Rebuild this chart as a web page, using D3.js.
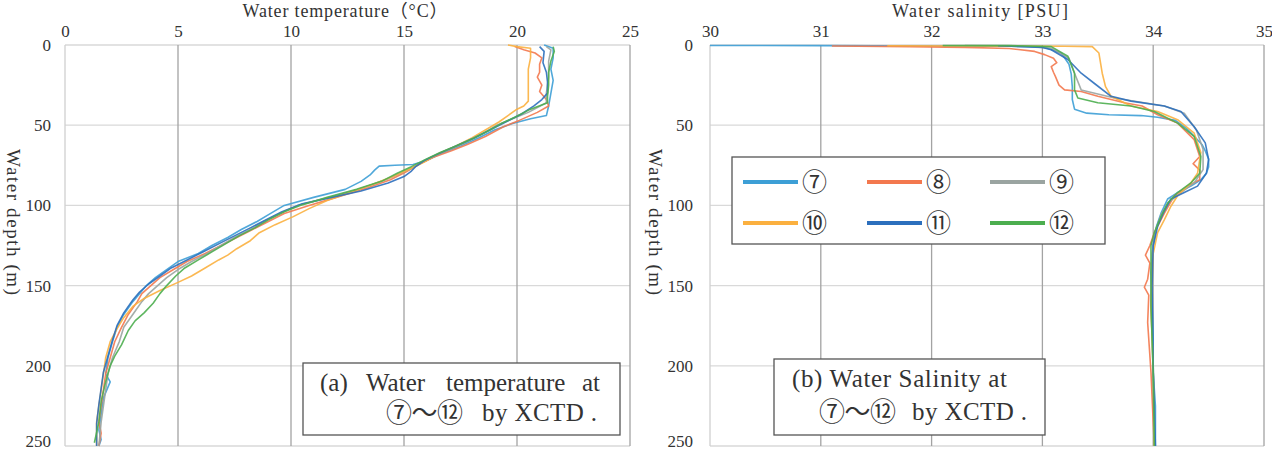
<!DOCTYPE html>
<html>
<head>
<meta charset="utf-8">
<script src="https://cdn.jsdelivr.net/npm/d3@7"></script>
<style>
  html, body { margin: 0; padding: 0; background: #fff; }
  svg { display: block; }
  text { font-family: "Liberation Serif", "Noto Sans CJK JP", serif; fill: #333; }
</style>
</head>
<body>
<div id="chart"></div>
<script>
// station names (legend order)
const stations = ["⑦", "⑧", "⑨", "⑩", "⑪", "⑫"];
const colors = ["#3d9fd6", "#f3784e", "#9aa4a1", "#fbb03f", "#2c6fbd", "#4cae4f"];

const tempTicks = [0, 5, 10, 15, 20, 25];
const salTicks = [30, 31, 32, 33, 34, 35];
const depthTicks = [0, 50, 100, 150, 200, 250];

// water temperature profiles [degC, depth m]
const temp7 = [[21.2,0],[21.6,2],[21.6,8],[21.5,15],[21.6,22],[21.5,30],[21.4,38],[21.3,44],[20.6,46],[19.8,49],[19.0,53],[18.3,58],[17.5,63],[16.6,68],[16.0,72],[15.4,74.5],[14.6,75],[13.9,75.5],[13.7,78],[13.5,81],[13.1,85],[12.4,90],[11.0,95],[9.7,100],[9.1,105],[8.5,110],[7.8,115],[7.2,120],[6.5,125],[5.9,130],[5.0,135],[4.5,140],[4.0,145],[3.6,150],[3.3,155],[3.0,160],[2.6,168],[2.3,176],[2.1,185],[1.9,195],[1.8,205],[2.0,210],[1.7,220],[1.6,230],[1.5,240],[1.6,246],[1.5,250]];
const temp8 = [[19.9,1],[20.3,3],[20.8,5],[21.1,8],[21.0,12],[21.0,17],[20.9,20],[21.1,25],[21.0,29],[21.3,34],[21.4,38],[20.9,42],[20.1,47],[19.4,51],[18.6,57],[17.8,62],[17.1,66],[16.3,70],[15.7,74],[15.1,79],[14.4,84],[13.4,89],[12.0,95],[10.8,100],[9.7,105],[9.0,110],[8.3,115],[7.6,120],[6.9,125],[6.2,130],[5.4,135],[4.8,140],[4.2,145],[3.8,150],[3.4,155],[3.2,160],[2.8,168],[2.5,176],[2.2,185],[2.0,195],[1.8,205],[1.7,215],[1.6,225],[1.5,235],[1.6,242],[1.5,250]];
const temp9 = [[21.3,1],[21.5,3],[21.4,10],[21.4,20],[21.3,30],[21.3,36],[20.5,42],[19.8,46],[19.1,50],[18.4,56],[17.7,61],[16.9,66],[16.2,70],[15.6,75],[15.0,79],[14.2,84],[13.0,90],[11.7,95],[10.3,100],[9.5,105],[8.8,110],[8.2,115],[7.5,120],[6.9,125],[6.3,130],[5.6,135],[5.0,140],[4.5,145],[4.1,150],[3.7,155],[3.4,160],[3.0,168],[2.6,176],[2.4,185],[2.1,195],[1.9,205],[1.8,215],[1.7,225],[1.6,235],[1.5,250]];
const temp10 = [[19.6,0],[20.0,1],[20.6,2],[20.6,8],[20.5,15],[20.5,22],[20.5,30],[20.5,35],[20.3,38],[20.0,40],[19.6,44],[19.2,48],[18.6,53],[18.0,58],[17.3,63],[16.5,68],[15.9,73],[15.3,77],[14.5,82],[13.6,87],[12.6,92],[11.6,97],[10.8,102],[10.1,107],[9.3,112],[8.6,117],[8.2,122],[7.6,127],[7.2,131],[6.8,134],[6.2,139],[5.6,144],[5.0,148],[4.2,153],[3.5,158],[3.0,163],[2.6,170],[2.3,177],[2.0,185],[1.8,195],[1.7,205],[1.6,215],[1.5,225],[1.4,235],[1.4,250]];
const temp11 = [[21.0,1],[21.2,4],[21.15,11],[21.3,17],[21.35,23],[21.35,30],[21.1,34],[20.75,38],[20.2,43],[19.5,48],[18.8,53],[18.1,58],[17.3,63],[16.5,68],[15.9,72],[15.5,76],[15.3,79],[15.0,82],[14.3,86],[13.1,91],[11.8,95],[10.5,99],[9.6,104],[8.9,109],[8.2,114],[7.5,119],[6.8,124],[6.1,129],[5.4,134],[4.7,139],[4.2,144],[3.7,149],[3.3,154],[3.0,159],[2.6,167],[2.3,175],[2.1,184],[1.9,194],[1.7,204],[1.6,214],[1.5,224],[1.4,236],[1.4,250]];
const temp12 = [[21.6,1],[21.65,4],[21.5,10],[21.4,17],[21.4,25],[21.35,32],[21.35,36],[20.6,40],[19.9,45],[19.3,49],[18.8,53],[18.1,58],[17.3,63],[16.6,67],[16.0,71],[15.3,76],[14.7,80],[14.0,85],[12.9,90],[11.6,95],[10.4,100],[9.7,104],[9.0,109],[8.4,114],[7.7,119],[7.1,124],[6.5,129],[5.9,134],[5.3,139],[4.9,144],[4.5,150],[4.2,155],[3.9,161],[3.5,167],[3.1,172],[2.8,178],[2.5,187],[2.2,194],[2.0,200],[1.8,210],[1.6,222],[1.5,235],[1.3,248]];

// water salinity profiles [PSU, depth m]
const sal7 = [[30.0,0.3],[31.0,0.4],[32.0,0.6],[32.7,0.8],[33.0,1],[33.17,5],[33.24,12],[33.26,18],[33.27,26],[33.27,34],[33.29,40],[33.4,42.5],[33.6,43.5],[33.89,44],[34.04,45],[34.2,47],[34.3,52],[34.37,57],[34.44,62],[34.47,66],[34.5,71],[34.5,76],[34.48,80],[34.43,84],[34.34,88],[34.22,92],[34.13,96],[34.07,105],[34.03,113],[34.0,125],[33.98,142],[33.99,163],[34.0,183],[34.0,204],[34.02,225],[34.02,250]];
const sal8 = [[31.1,0.6],[31.8,1],[32.3,1.5],[32.7,2.2],[32.93,4],[33.02,6],[33.1,8.3],[33.13,11],[33.08,13.5],[33.1,17],[33.12,20],[33.15,25],[33.2,28],[33.35,29],[33.5,32],[33.74,36],[33.9,38],[34.04,43.5],[34.22,48.7],[34.37,59],[34.42,69.5],[34.36,74],[34.42,78],[34.42,84],[34.31,88],[34.19,94],[34.1,105],[34.01,117],[33.97,125],[33.93,131],[33.97,136],[33.95,146],[33.92,151],[33.96,156],[33.95,173],[33.98,204],[34.0,235],[34.01,250]];
const sal9 = [[32.3,0.3],[32.8,0.5],[33.08,2],[33.24,8.3],[33.29,17.6],[33.35,28],[33.65,33],[34.1,38],[34.28,42.5],[34.39,53],[34.45,65],[34.45,77.7],[34.37,86],[34.25,92],[34.14,98],[34.07,106],[34.02,116],[33.99,130],[33.98,160],[34.0,205],[34.01,250]];
const sal10 = [[31.6,0.5],[32.5,0.6],[33.2,0.8],[33.45,1],[33.51,5],[33.54,17.6],[33.57,26],[33.62,32],[33.8,38],[34.04,41.5],[34.22,46.6],[34.37,55],[34.43,67],[34.4,80],[34.34,86],[34.22,94],[34.16,100.5],[34.1,109],[34.04,117],[34.0,130],[33.98,163],[34.0,200],[34.01,250]];
const sal11 = [[32.6,0.5],[33.0,1.5],[33.08,3],[33.23,9],[33.35,17.6],[33.47,24],[33.62,32],[33.8,35],[34.1,38],[34.25,41.5],[34.37,51],[34.47,61],[34.5,71.5],[34.48,80],[34.4,88],[34.28,92],[34.16,96],[34.09,105],[34.04,113],[34.0,125],[33.99,150],[34.0,200],[34.02,250]];
const sal12 = [[32.1,0.3],[32.7,0.4],[33.08,1],[33.23,7],[33.29,17.6],[33.29,28],[33.32,33],[33.5,36],[33.8,38],[34.01,41.5],[34.22,48.7],[34.37,57],[34.43,69.5],[34.42,80],[34.34,86],[34.22,92],[34.13,98.5],[34.07,107],[34.01,117],[33.98,125],[33.98,142],[33.98,163],[34.0,204],[34.01,250]];

const tempSeries = [temp7, temp8, temp9, temp10, temp11, temp12];
const salSeries = [sal7, sal8, sal9, sal10, sal11, sal12];

const W = 1272, H = 451;
const svg = d3.select("#chart").append("svg")
  .attr("width", W).attr("height", H);

svg.append("rect").attr("width", W).attr("height", H).attr("fill", "#fff");

function panel(cfg) {
  const x = d3.scaleLinear().domain(cfg.xDomain).range(cfg.xRange);
  const y = d3.scaleLinear().domain([0, 250]).range([45, 446]);
  const g = svg.append("g");

  // horizontal grid
  g.selectAll(".hgrid").data(depthTicks).enter().append("line")
    .attr("x1", cfg.xRange[0]).attr("x2", cfg.xRange[1])
    .attr("y1", d => y(d)).attr("y2", d => y(d))
    .attr("stroke", "#d9d9d9").attr("stroke-width", 1.3);

  // vertical grid
  g.selectAll(".vgrid").data(cfg.ticks).enter().append("line")
    .attr("x1", d => x(d)).attr("x2", d => x(d))
    .attr("y1", y(0)).attr("y2", y(250))
    .attr("stroke", (d, i) => i === 0 ? "#cfcfcf" : "#a3a3a3")
    .attr("stroke-width", 1.3);

  // axes labels
  const ax = g.append("g").attr("transform", `translate(0,${y(0)})`)
    .call(d3.axisTop(x).tickValues(cfg.ticks).tickFormat(d3.format("d"))
      .tickSize(0).tickPadding(8));
  ax.select(".domain").remove();
  ax.selectAll("text").attr("font-size", 17).attr("fill", "#333");

  const ay = g.append("g").attr("transform", `translate(${cfg.xRange[0]},0)`)
    .call(d3.axisLeft(y).tickValues(depthTicks).tickSize(0).tickPadding(cfg.yPad));
  ay.select(".domain").remove();
  ay.selectAll("text").attr("font-size", 17).attr("fill", "#333")
    .attr("dy", (d, i) => i === depthTicks.length - 1 ? "0.05em" : "0.32em");

  // titles
  g.append("text").attr("x", cfg.titleX).attr("y", 17)
    .attr("text-anchor", "middle").attr("font-size", 18)
    .attr("textLength", cfg.titleLen).attr("lengthAdjust", "spacing")
    .text(cfg.title);

  g.append("text")
    .attr("transform", `translate(${cfg.yTitleX},222) rotate(90)`)
    .attr("text-anchor", "middle").attr("font-size", 19)
    .attr("textLength", 146).attr("lengthAdjust", "spacing")
    .text("Water depth (m)");

  // profiles
  const line = d3.line().x(d => x(d[0])).y(d => y(d[1]));
  g.selectAll(".profile").data(cfg.series).enter().append("path")
    .attr("d", line)
    .attr("fill", "none")
    .attr("stroke", (d, i) => colors[i])
    .attr("stroke-width", 1.6)
    .attr("stroke-linejoin", "round")
    .attr("opacity", 0.9);

  return { x, y, g };
}

panel({
  xDomain: [0, 25], xRange: [65, 630], ticks: tempTicks, yPad: 14,
  title: "Water temperature（°C）", titleX: 345, titleLen: 205,
  yTitleX: 7, series: tempSeries
});

panel({
  xDomain: [30, 35], xRange: [710, 1264], ticks: salTicks, yPad: 17,
  title: "Water salinity [PSU]", titleX: 980, titleLen: 176,
  yTitleX: 649, series: salSeries
});

// legend
const lg = svg.append("g");
lg.append("rect").attr("x", 732).attr("y", 157).attr("width", 373).attr("height", 87)
  .attr("fill", "#fff").attr("stroke", "#555").attr("stroke-width", 1.3);
const legCols = [743, 867, 990];
const legRows = [182, 223];
const items = lg.selectAll(".leg").data(stations).enter().append("g")
  .attr("transform", (d, i) => `translate(${legCols[i % 3]},${legRows[Math.floor(i / 3)]})`);
items.append("line").attr("x1", 0).attr("x2", 55).attr("y1", 0).attr("y2", 0)
  .attr("stroke", (d, i) => colors[i]).attr("stroke-width", 4);
items.append("text").attr("x", 59).attr("y", 9)
  .attr("font-size", 25).attr("fill", "#222")
  .text(d => d);

// annotation boxes
const nt = svg.append("g");
nt.append("rect").attr("x", 303).attr("y", 363).attr("width", 317).attr("height", 72)
  .attr("fill", "#fff").attr("stroke", "#555").attr("stroke-width", 1.3);
const aWords = [["(a)", 320], ["Water", 366], ["temperature", 446], ["at", 582]];
nt.selectAll(".aw").data(aWords).enter().append("text")
  .attr("x", d => d[1]).attr("y", 391).attr("font-size", 25).attr("fill", "#222")
  .text(d => d[0]);
nt.append("text").attr("x", 386).attr("y", 422).attr("font-size", 26).attr("fill", "#222")
  .attr("textLength", 77).attr("lengthAdjust", "spacing")
  .text("⑦～⑫");
nt.append("text").attr("x", 482).attr("y", 421).attr("font-size", 25).attr("fill", "#222")
  .attr("textLength", 115).attr("lengthAdjust", "spacing")
  .text("by XCTD .");

nt.append("rect").attr("x", 774).attr("y", 359).attr("width", 271).attr("height", 76)
  .attr("fill", "#fff").attr("stroke", "#555").attr("stroke-width", 1.3);
nt.append("text").attr("x", 792).attr("y", 387).attr("font-size", 25).attr("fill", "#222")
  .attr("textLength", 215).attr("lengthAdjust", "spacing")
  .text("(b) Water Salinity at");
nt.append("text").attr("x", 819).attr("y", 421).attr("font-size", 26).attr("fill", "#222")
  .attr("textLength", 77).attr("lengthAdjust", "spacing")
  .text("⑦～⑫");
nt.append("text").attr("x", 912).attr("y", 420).attr("font-size", 25).attr("fill", "#222")
  .attr("textLength", 115).attr("lengthAdjust", "spacing")
  .text("by XCTD .");
</script>
</body>
</html>
